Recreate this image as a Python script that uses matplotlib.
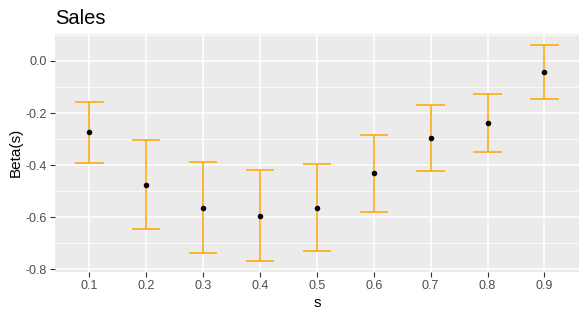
import matplotlib
matplotlib.use('Agg')
import matplotlib.pyplot as plt
import numpy as np

plt.rcParams['font.family'] = ['Liberation Sans', 'DejaVu Sans']

S_LABELS = ["0.1", "0.2", "0.3", "0.4", "0.5", "0.6", "0.7", "0.8", "0.9"]
BETA     = [-0.274, -0.475, -0.563, -0.594, -0.563, -0.432, -0.297, -0.239, -0.042]
LOWER    = [-0.391, -0.644, -0.737, -0.768, -0.729, -0.579, -0.424, -0.351, -0.147]
UPPER    = [-0.158, -0.305, -0.390, -0.420, -0.397, -0.285, -0.170, -0.127,  0.062]

ORANGE = "#FFA500"

fig = plt.figure(figsize=(5.86, 3.19), dpi=100)
ax = fig.add_axes([55.2 / 586, 1 - 271.7 / 319, (578.6 - 55.2) / 586, (271.7 - 34) / 319])
ax.set_facecolor("#EBEBEB")

xs = np.arange(1, len(S_LABELS) + 1)

# grid (minor + major, ggplot style)
for y in np.arange(-0.9, 0.11, 0.2):
    ax.axhline(y, color="white", lw=0.55, zorder=0)
for y in np.arange(-0.8, 0.01, 0.2):
    ax.axhline(y, color="white", lw=1.1, zorder=0)
for x in xs:
    ax.axvline(x, color="white", lw=1.1, zorder=0)

# error bars
ax.vlines(xs, LOWER, UPPER, color=ORANGE, lw=1.1, zorder=2)
ax.hlines(LOWER, xs - 0.25, xs + 0.25, color=ORANGE, lw=1.1, zorder=2)
ax.hlines(UPPER, xs - 0.25, xs + 0.25, color=ORANGE, lw=1.1, zorder=2)
ax.scatter(xs, BETA, s=16, color="black", zorder=3, linewidths=0)

lo, hi = min(LOWER), max(UPPER)
pad = (hi - lo) * 0.05
ax.set_ylim(lo - pad, hi + pad)
ax.set_xlim(0.4, len(S_LABELS) + 0.6)

ax.set_xticks(xs)
ax.set_xticklabels(S_LABELS)
ax.set_yticks([-0.8, -0.6, -0.4, -0.2, 0.0])
ax.set_yticklabels(["-0.8", "-0.6", "-0.4", "-0.2", "0.0"])
ax.tick_params(colors="#333333", labelcolor="#4D4D4D", labelsize=9,
               length=3.5, width=0.8, pad=2.5)
for sp in ax.spines.values():
    sp.set_visible(False)

ax.set_xlabel("s", fontsize=11, color="black", labelpad=3)
ax.set_ylabel("Beta(s)", fontsize=11, color="black", labelpad=2)
fig.text(55.2 / 586, 1 - 24.5 / 319, "Sales", fontsize=14.5, color="black",
         ha="left", va="baseline")

fig.savefig("out.png", dpi=100)
